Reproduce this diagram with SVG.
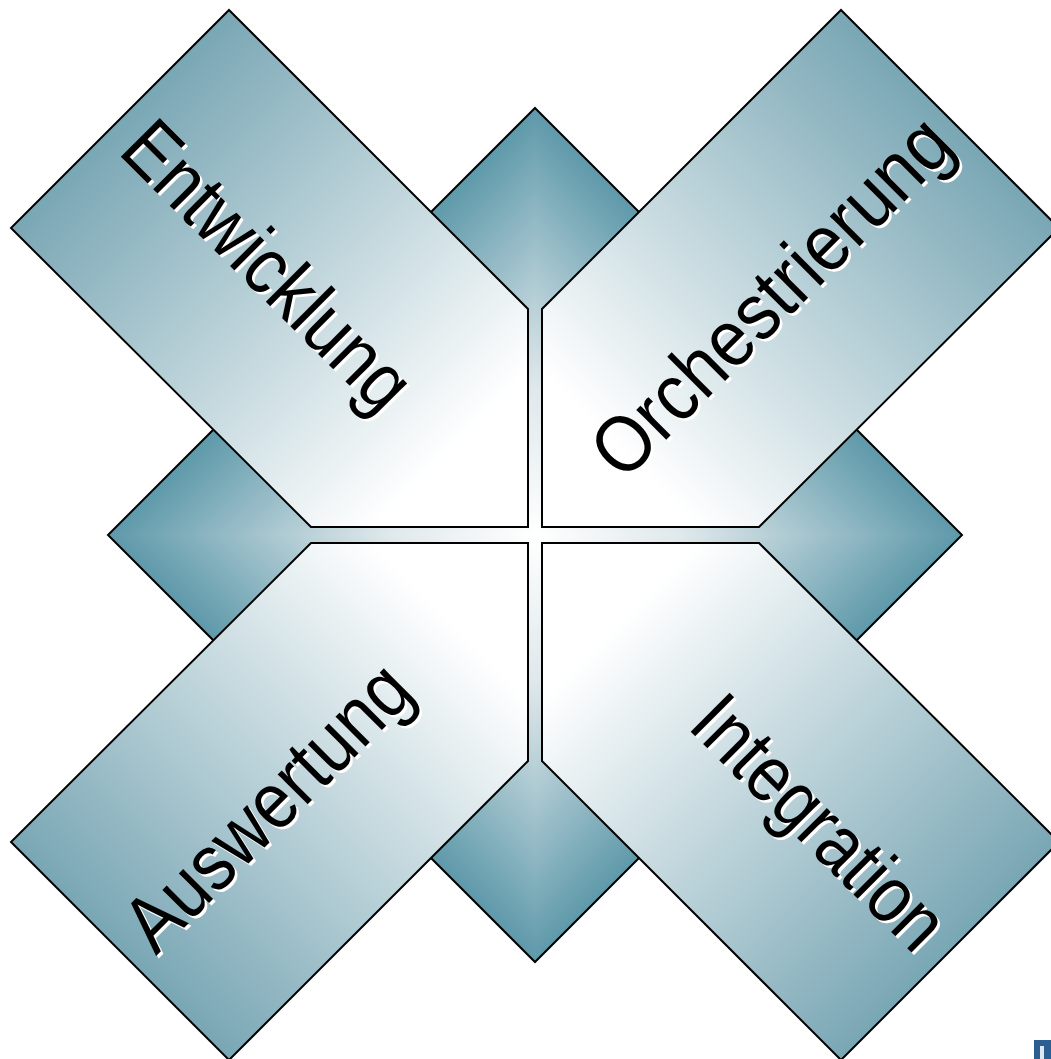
<svg xmlns="http://www.w3.org/2000/svg" width="1051" height="1059" viewBox="0 0 1051 1059">
  <style>
    .edge { stroke: #000000; stroke-width: 2; stroke-linejoin: miter; }
    .lbl { font-family: "Liberation Sans", Arial, sans-serif; font-size: 80px; }
    .ink { fill: #000000; }
    .shadow { fill: #ffffff; }
  </style>
  <defs>
    <linearGradient id="bgTR" gradientUnits="userSpaceOnUse" x1="535" y1="535" x2="748.5" y2="321.5">
      <stop offset="0" stop-color="#ffffff"/><stop offset="0.35" stop-color="#dfe8eb"/><stop offset="1" stop-color="#5e99aa"/>
    </linearGradient>
    <linearGradient id="bgTL" gradientUnits="userSpaceOnUse" x1="535" y1="535" x2="321.5" y2="321.5">
      <stop offset="0" stop-color="#ffffff"/><stop offset="0.35" stop-color="#dfe8eb"/><stop offset="1" stop-color="#5e99aa"/>
    </linearGradient>
    <linearGradient id="bgBR" gradientUnits="userSpaceOnUse" x1="535" y1="535" x2="748.5" y2="748.5">
      <stop offset="0" stop-color="#ffffff"/><stop offset="0.35" stop-color="#dfe8eb"/><stop offset="1" stop-color="#5e99aa"/>
    </linearGradient>
    <linearGradient id="bgBL" gradientUnits="userSpaceOnUse" x1="535" y1="535" x2="321.5" y2="748.5">
      <stop offset="0" stop-color="#ffffff"/><stop offset="0.35" stop-color="#dfe8eb"/><stop offset="1" stop-color="#5e99aa"/>
    </linearGradient>
    <radialGradient id="bgBase" gradientUnits="userSpaceOnUse" cx="535" cy="535" r="400">
      <stop offset="0" stop-color="#ffffff"/><stop offset="0.4" stop-color="#dfe8eb"/><stop offset="1" stop-color="#5e99aa"/>
    </radialGradient>
    <linearGradient id="gTL" x1="0" y1="0" x2="1" y2="1">
      <stop offset="0.2" stop-color="#77a5b3"/><stop offset="0.85" stop-color="#ffffff"/>
    </linearGradient>
    <linearGradient id="gTR" x1="1" y1="0" x2="0" y2="1">
      <stop offset="0.2" stop-color="#77a5b3"/><stop offset="0.85" stop-color="#ffffff"/>
    </linearGradient>
    <linearGradient id="gBL" x1="0" y1="1" x2="1" y2="0">
      <stop offset="0.2" stop-color="#77a5b3"/><stop offset="0.85" stop-color="#ffffff"/>
    </linearGradient>
    <linearGradient id="gBR" x1="1" y1="1" x2="0" y2="0">
      <stop offset="0.2" stop-color="#77a5b3"/><stop offset="0.85" stop-color="#ffffff"/>
    </linearGradient>
  </defs>

  <g id="background">
    <polygon points="535,108 962,535 535,962 108,535" fill="url(#bgBase)"/>
    <polygon points="535,535 535,108 962,535" fill="url(#bgTR)"/>
    <polygon points="535,535 535,108 108,535" fill="url(#bgTL)"/>
    <polygon points="535,535 962,535 535,962" fill="url(#bgBR)"/>
    <polygon points="535,535 108,535 535,962" fill="url(#bgBL)"/>
    <polygon points="535,108 962,535 535,962 108,535" fill="none" class="edge"/>
  </g>

  <g id="connectors"></g>

  <g id="node-entwicklung">
    <polygon points="229,10 528,309 528,527 311,527 11,228" fill="url(#gTL)" class="edge"/>
    <text class="lbl shadow" transform="translate(119.3,155.3) rotate(45)" textLength="373" lengthAdjust="spacingAndGlyphs">Entwicklung</text>
    <text class="lbl ink" transform="translate(116.8,152.8) rotate(45)" textLength="373" lengthAdjust="spacingAndGlyphs">Entwicklung</text>
  </g>

  <g id="node-orchestrierung">
    <polygon points="841,10 1059,228 759,527 542,527 542,309" fill="url(#gTR)" class="edge"/>
    <text class="lbl shadow" transform="translate(626,485) rotate(-45)" textLength="472" lengthAdjust="spacingAndGlyphs">Orchestrierung</text>
    <text class="lbl ink" transform="translate(623.5,482.5) rotate(-45)" textLength="472" lengthAdjust="spacingAndGlyphs">Orchestrierung</text>
  </g>

  <g id="node-auswertung">
    <polygon points="229,1060 528,761 528,543 311,543 11,842" fill="url(#gBL)" class="edge"/>
    <text class="lbl shadow" transform="translate(158.5,958.5) rotate(-45)" textLength="369" lengthAdjust="spacingAndGlyphs">Auswertung</text>
    <text class="lbl ink" transform="translate(156,956) rotate(-45)" textLength="369" lengthAdjust="spacingAndGlyphs">Auswertung</text>
  </g>

  <g id="node-integration">
    <polygon points="841,1060 1059,842 759,543 542,543 542,761" fill="url(#gBR)" class="edge"/>
    <text class="lbl shadow" transform="translate(688.8,729.8) rotate(45)" textLength="323" lengthAdjust="spacingAndGlyphs">Integration</text>
    <text class="lbl ink" transform="translate(686.3,727.3) rotate(45)" textLength="323" lengthAdjust="spacingAndGlyphs">Integration</text>
  </g>

  <g id="corner-mark">
    <rect x="1034" y="1040" width="17" height="19" fill="#2c5f91"/>
    <rect x="1040" y="1046" width="4" height="13" fill="#dfe8f0"/>
  </g>
</svg>
